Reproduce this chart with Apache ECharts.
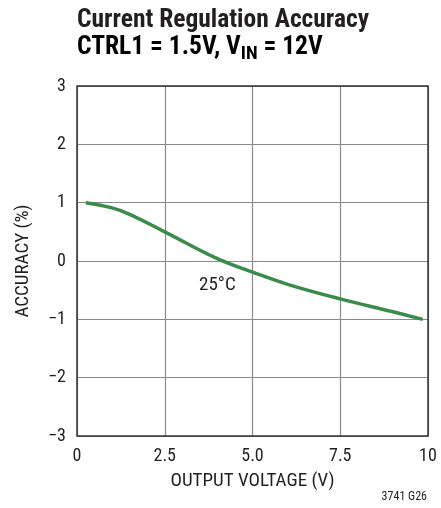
<!DOCTYPE html>
<html>
<head>
<meta charset="utf-8">
<script src="https://cdn.jsdelivr.net/npm/echarts@6/dist/echarts.min.js"></script>
<style>
  html, body { margin: 0; padding: 0; background: #fff; }
  #chart { width: 441px; height: 508px; }
</style>
</head>
<body>
<div id="chart"></div>
<script>
// curve (25°C)
const voltage = [0.25, 1.0, 1.5, 2.5, 4.0, 5.0, 6.0, 7.5, 9.0, 9.85];
const accuracy = [1.0, 0.91, 0.8, 0.5, 0.04, -0.19, -0.4, -0.65, -0.87, -1.0];
const xTicks = ['0', '2.5', '5.0', '7.5', '10'];
const curveLabel = '25°C';

const chart = echarts.init(document.getElementById('chart'));
const textColor = '#231f20';
const narrow = "'Roboto Condensed', 'Liberation Sans Narrow', sans-serif";

chart.setOption({
  animation: false,
  textStyle: { fontFamily: narrow },
  grid: { left: 77, right: 13, top: 86, bottom: 72 },
  graphic: [
    {
      type: 'text', left: 77, top: 8,
      style: {
        text: 'Current Regulation Accuracy',
        fontFamily: narrow, fontWeight: 'bold', fontSize: 25.5,
        fill: textColor
      }
    },
    {
      type: 'text', left: 77, top: 35,
      style: {
        text: '{a|CTRL1 = 1.5V, V}{s|IN}{a| = 12V}',
        rich: {
          a: { fontFamily: narrow, fontWeight: 'bold', fontSize: 25.5, color: textColor },
          s: { fontFamily: narrow, fontWeight: 'bold', fontSize: 19, color: textColor, padding: [12, 0, 0, 0] }
        }
      }
    },
    {
      type: 'text', right: 14, top: 491,
      style: { text: '3741 G26', fontFamily: narrow, fontSize: 12, fill: textColor }
    }
  ],
  xAxis: {
    type: 'value', min: 0, max: 10, interval: 2.5,
    name: 'OUTPUT VOLTAGE (V)', nameLocation: 'middle', nameGap: 36,
    nameTextStyle: { fontSize: 19, color: textColor, fontFamily: narrow },
    axisLine: { show: false },
    axisTick: { show: false },
    axisLabel: {
      fontSize: 18, color: textColor, margin: 11,
      formatter: v => xTicks[Math.round(v / 2.5)]
    },
    splitLine: { lineStyle: { color: '#8a8a8a', width: 1.2 } }
  },
  yAxis: {
    type: 'value', min: -3, max: 3, interval: 1,
    name: 'ACCURACY (%)', nameLocation: 'middle', nameGap: 44, nameRotate: 90,
    nameTextStyle: { fontSize: 19, color: textColor, fontFamily: narrow },
    axisLine: { show: false },
    axisTick: { show: false },
    axisLabel: {
      fontSize: 18, color: textColor, margin: 11,
      formatter: v => (v < 0 ? '\u2212' + Math.abs(v) : String(v))
    },
    splitLine: { lineStyle: { color: '#8a8a8a', width: 1.2 } }
  },
  series: [
    {
      type: 'line',
      data: voltage.map((v, i) => [v, accuracy[i]]),
      smooth: 0.4,
      showSymbol: false,
      lineStyle: { color: '#3b8b4b', width: 3.5 },
      markPoint: {
        symbol: 'circle', symbolSize: 1,
        itemStyle: { color: 'transparent' },
        data: [{
          coord: [4.0, -0.41],
          label: { show: true, position: 'inside', formatter: curveLabel, fontSize: 19, color: textColor, fontFamily: narrow }
        }]
      }
    },
    {
      // plot frame
      type: 'line', data: [], silent: true,
      markArea: {
        silent: true,
        itemStyle: { color: 'transparent', borderColor: '#333', borderWidth: 1.5 },
        data: [[{ coord: [0, -3] }, { coord: [10, 3] }]]
      }
    }
  ]
});
</script>
</body>
</html>
